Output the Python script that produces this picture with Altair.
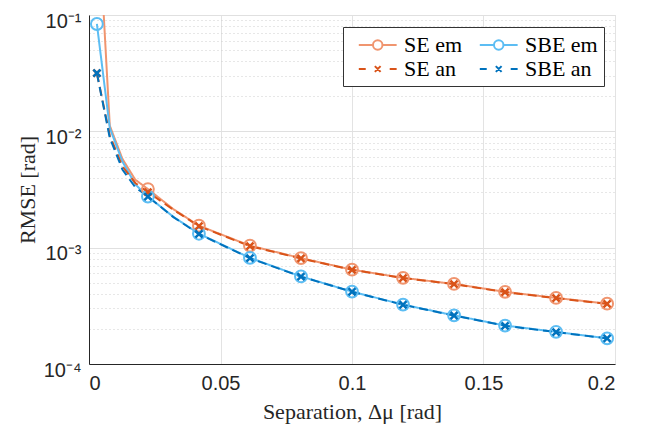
import altair as alt
import pandas as pd

# ---- data ----
x_line = [0.003, 0.0079, 0.0127, 0.0176, 0.0224, 0.0321, 0.0418, 0.0612,
          0.0806, 0.1, 0.1194, 0.1388, 0.1582, 0.1776, 0.197]
x_mark = [0.003, 0.0224, 0.0418, 0.0612, 0.0806, 0.1, 0.1194, 0.1388,
          0.1582, 0.1776, 0.197]

se_em = [1.2, 0.0112, 0.0058, 0.00384, 0.00319, 0.00214, 0.001545, 0.00104,
         0.000813, 0.000647, 0.000550, 0.000488, 0.000417, 0.000370, 0.000330]
sbe_em = [0.0837, 0.0107, 0.0055, 0.0035, 0.00275, 0.00184, 0.001318, 0.000817,
          0.000566, 0.000419, 0.000324, 0.000262, 0.000214, 0.000189, 0.000166]
se_an = [0.0316, 0.0092, 0.0050, 0.0036, 0.0030, 0.00212, 0.00153, 0.00103,
         0.000808, 0.000645, 0.000548, 0.000486, 0.000415, 0.000368, 0.000329]
sbe_an = [0.0316, 0.0088, 0.0047, 0.0033, 0.00275, 0.00183, 0.00131, 0.000812,
          0.000564, 0.000418, 0.000323, 0.000261, 0.000213, 0.000188, 0.000166]

series_names = ["SE em", "SBE em", "SE an", "SBE an"]
series_vals = [se_em, sbe_em, se_an, sbe_an]
series_colors = ["#F0956F", "#5CBDF3", "#D95319", "#0072BD"]
# legend is filled column by column: SE em / SE an in col 1, SBE em / SBE an in col 2
legend_order = ["SE em", "SE an", "SBE em", "SBE an"]

x_ticks = [0, 0.05, 0.1, 0.15, 0.2]
y_ticks = sorted([m * d for d in [1e-4, 1e-3, 1e-2] for m in range(1, 10)] + [1e-1])

rows = []
for name, vals in zip(series_names, series_vals):
    for xv, yv in zip(x_line, vals):
        rows.append({"series": name, "x": xv, "y": yv, "marker": xv in x_mark})
df = pd.DataFrame(rows)

SANS = "Liberation Sans"
SERIF = "Liberation Serif"

xscale = alt.Scale(domain=[0, 0.2], nice=False)
yscale = alt.Scale(type="log", domain=[1e-4, 1e-1], nice=False)

is_major = "abs(log(datum.value)/LN10 - round(log(datum.value)/LN10)) < 0.001"
lbl = ("round(log(datum.value)/LN10) == -1 ? '10⁻¹' : "
       "round(log(datum.value)/LN10) == -2 ? '10⁻²' : "
       "round(log(datum.value)/LN10) == -3 ? '10⁻³' : "
       "round(log(datum.value)/LN10) == -4 ? '10⁻⁴' : ''")

x_axis = alt.Axis(values=x_ticks, format="~g", title="Separation, Δμ [rad]",
                  grid=True, gridColor="#E3E3E3", gridWidth=1,
                  domainColor="#262626", domainWidth=1, ticks=False,
                  labelFont=SANS, labelFontSize=20, labelColor="#262626",
                  labelPadding=9, titleFont=SERIF, titleFontSize=22,
                  titleFontWeight="normal", titleColor="#262626",
                  titleBaseline="alphabetic", titleY=54)
y_axis = alt.Axis(values=y_ticks, title="RMSE [rad]",
                  labelExpr=f"{is_major} ? ({lbl}) : ''",
                  grid=True,
                  gridColor={"condition": {"test": is_major, "value": "#E0E0E0"}, "value": "#CFCFCF"},
                  gridDash={"condition": {"test": is_major, "value": []}, "value": [1, 3]},
                  domainColor="#262626", domainWidth=1, ticks=False,
                  labelFont=SANS, labelFontSize=20, labelColor="#262626",
                  labelPadding=8, labelBaseline="middle", labelOffset=6,
                  titleFont=SERIF, titleFontSize=22, titleFontWeight="normal",
                  titleColor="#262626", titleX=-62, titleBaseline="middle")

base = alt.Chart(df)

layers = []
# lines
for name, col in zip(series_names, series_colors):
    dashed = name.endswith("an")
    ln = base.transform_filter(alt.datum.series == name).mark_line(
        color=col, strokeWidth=2, clip=True,
        strokeDash=[9, 5] if dashed else [1, 0]
    ).encode(
        x=alt.X("x:Q", scale=xscale, axis=x_axis),
        y=alt.Y("y:Q", scale=yscale, axis=y_axis),
        order="x:Q",
    )
    layers.append(ln)

# markers
x_path = "M-1,-1L1,1M-1,1L1,-1"
for name, col in zip(series_names, series_colors):
    dashed = name.endswith("an")
    if dashed:
        mk = base.transform_filter(
            (alt.datum.series == name) & alt.datum.marker
        ).mark_point(shape=x_path, filled=False, color=col, strokeWidth=2.5,
                     size=50, opacity=1, clip=True)
    else:
        mk = base.transform_filter(
            (alt.datum.series == name) & alt.datum.marker
        ).mark_point(shape="circle", filled=False, color=col, strokeWidth=2,
                     size=140, opacity=1, clip=True)
    layers.append(mk.encode(x=alt.X("x:Q", scale=xscale),
                            y=alt.Y("y:Q", scale=yscale)))

# legend layer (no visible data): line + marker symbols as custom paths
em_path = ("M-0.2,0L1.09,0M1.95,0L3.24,0"
           "M1.95,0A0.43,0.43,0,1,1,1.09,0A0.43,0.43,0,1,1,1.95,0")
an_path = ("M-0.2,0L0.43,0M2.61,0L3.24,0"
           "M1.26,-0.26L1.78,0.26M1.26,0.26L1.78,-0.26")
legend_colors = [series_colors[series_names.index(n)] for n in legend_order]
legend_shapes = [em_path if n.endswith("em") else an_path for n in legend_order]
leg_common = dict(title=None, orient="none", legendX=254, legendY=12, columns=2)
legend_layer = base.transform_filter(alt.datum.x < 0).mark_point(
    filled=False, strokeWidth=2, opacity=1
).encode(
    x=alt.X("x:Q", scale=xscale),
    y=alt.Y("y:Q", scale=yscale),
    color=alt.Color("series:N",
                    scale=alt.Scale(domain=legend_order, range=legend_colors),
                    legend=alt.Legend(**leg_common, columnPadding=7,
                                      symbolSize=484, symbolStrokeWidth=2,
                                      symbolOpacity=1,
                                      labelFont=SERIF, labelFontSize=22,
                                      labelColor="#000000", labelOffset=31,
                                      rowPadding=1, padding=6,
                                      strokeColor="#333333", fillColor="white",
                                      symbolFillColor="transparent")),
    shape=alt.Shape("series:N",
                    scale=alt.Scale(domain=legend_order, range=legend_shapes),
                    legend=alt.Legend(**leg_common)),
)
layers.append(legend_layer)

chart = alt.layer(*layers).properties(
    width=526, height=349,
    autosize=alt.AutoSizeParams(type="none"),
    padding={"left": 81, "top": 7, "right": 20, "bottom": 60},
).configure_view(stroke=None).configure(background="white")

chart.save("out.html", embed_options={"renderer": "svg", "actions": False})
